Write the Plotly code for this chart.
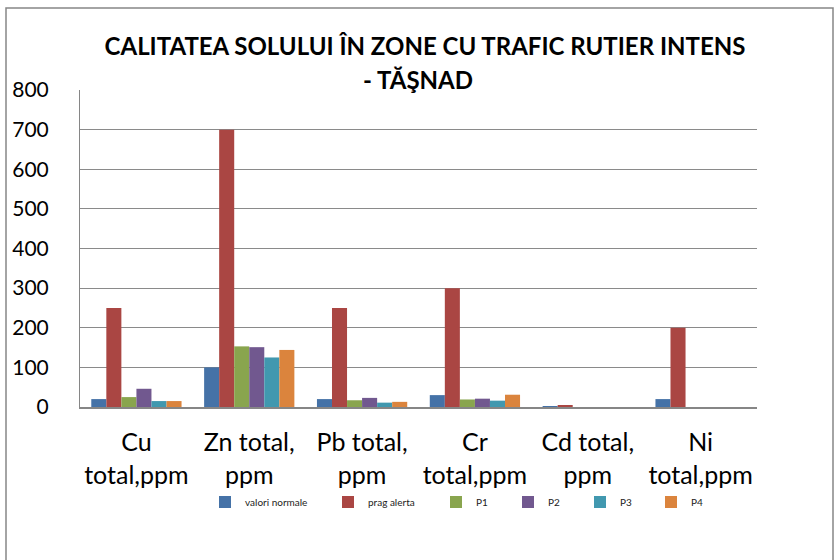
import plotly.graph_objects as go

categories = ["Cu total,ppm", "Zn total, ppm", "Pb total, ppm", "Cr total,ppm", "Cd total, ppm", "Ni total,ppm"]
tick_labels = ["Cu<br>total,ppm", "Zn total,<br>ppm", "Pb total,<br>ppm", "Cr<br>total,ppm", "Cd total,<br>ppm", "Ni<br>total,ppm"]

valori_normale = [20, 100, 20, 30, 1, 20]
prag_alerta = [250, 700, 250, 300, 5, 200]
p1 = [25, 153, 17, 19, 0, 0]
p2 = [46, 151, 23, 21, 0, 0]
p3 = [15, 125, 11, 16, 0, 0]
p4 = [15, 144, 13, 31, 0, 0]

series_names = ["valori normale", "prag alerta", "P1", "P2", "P3", "P4"]
series_values = [valori_normale, prag_alerta, p1, p2, p3, p4]
colors = ["#4572A7", "#AA4643", "#89A54E", "#71588F", "#4198AF", "#DB843D"]

# legend text start x positions (pixels) for each entry
legend_text_px = [245, 368, 476, 548, 620, 691]

W, H = 834, 560
L, R, T, B = 80, 77, 90, 153
pw, ph = W - L - R, H - T - B

def px_to_paper_x(px):
    return (px - L) / pw

def px_to_paper_y(py):
    return (H - B - py) / ph

fig = go.Figure()
legend_layouts = {}
for i, (name, vals, c) in enumerate(zip(series_names, series_values, colors)):
    lname = "legend" if i == 0 else f"legend{i+1}"
    fig.add_trace(go.Bar(
        name=name, x=categories, y=vals,
        marker=dict(color=c, line=dict(width=0)),
        legend=lname,
    ))
    legend_layouts[lname] = dict(
        x=px_to_paper_x(legend_text_px[i] - 40), y=px_to_paper_y(502),
        xanchor="left", yanchor="middle",
        orientation="h", bgcolor="rgba(0,0,0,0)",
        font=dict(family="Lato", size=10, color="#222222"),
        itemwidth=30, tracegroupgap=0,
    )

fig.update_layout(
    width=W, height=H,
    margin=dict(l=L, r=R, t=T, b=B),
    paper_bgcolor="white", plot_bgcolor="white",
    barmode="group", bargap=0.2, bargroupgap=0,
    font=dict(family="Lato", color="#000000"),
    title=dict(
        text="<b>CALITATEA SOLULUI ÎN ZONE CU TRAFIC RUTIER INTENS</b>",
        x=425 / W, xanchor="center",
        y=1 - 47 / H, yanchor="middle",
        font=dict(family="Lato", size=24, color="#000000"),
    ),
    annotations=[dict(
        text="<b>- TĂŞNAD</b>", xref="paper", yref="paper",
        x=px_to_paper_x(418), y=px_to_paper_y(80),
        xanchor="center", yanchor="middle", showarrow=False,
        font=dict(family="Lato", size=24, color="#000000"),
    )],
    showlegend=True,
    **legend_layouts,
)

fig.update_xaxes(
    tickmode="array", tickvals=categories, ticktext=tick_labels,
    showline=True, linecolor="#868686", linewidth=2,
    showgrid=False, ticks="", ticklabelstandoff=12,
    tickfont=dict(family="Lato", size=25, color="#000000"),
)
fig.update_yaxes(
    range=[0, 800], dtick=100, tick0=0,
    showline=True, linecolor="#868686", linewidth=1,
    showgrid=True, gridcolor="#8a8a8a", gridwidth=1,
    zeroline=False, ticks="", ticklabelstandoff=26,
    tickfont=dict(family="Lato", size=21, color="#000000"),
)

fig.add_shape(
    type="rect", xref="paper", yref="paper",
    x0=px_to_paper_x(6), x1=px_to_paper_x(833),
    y0=px_to_paper_y(570), y1=px_to_paper_y(8),
    line=dict(color="#868686", width=1.5), fillcolor="rgba(0,0,0,0)", layer="below",
)

fig.write_html("out.html", config={"displayModeBar": False},
               post_script="document.body.style.margin='0';")
